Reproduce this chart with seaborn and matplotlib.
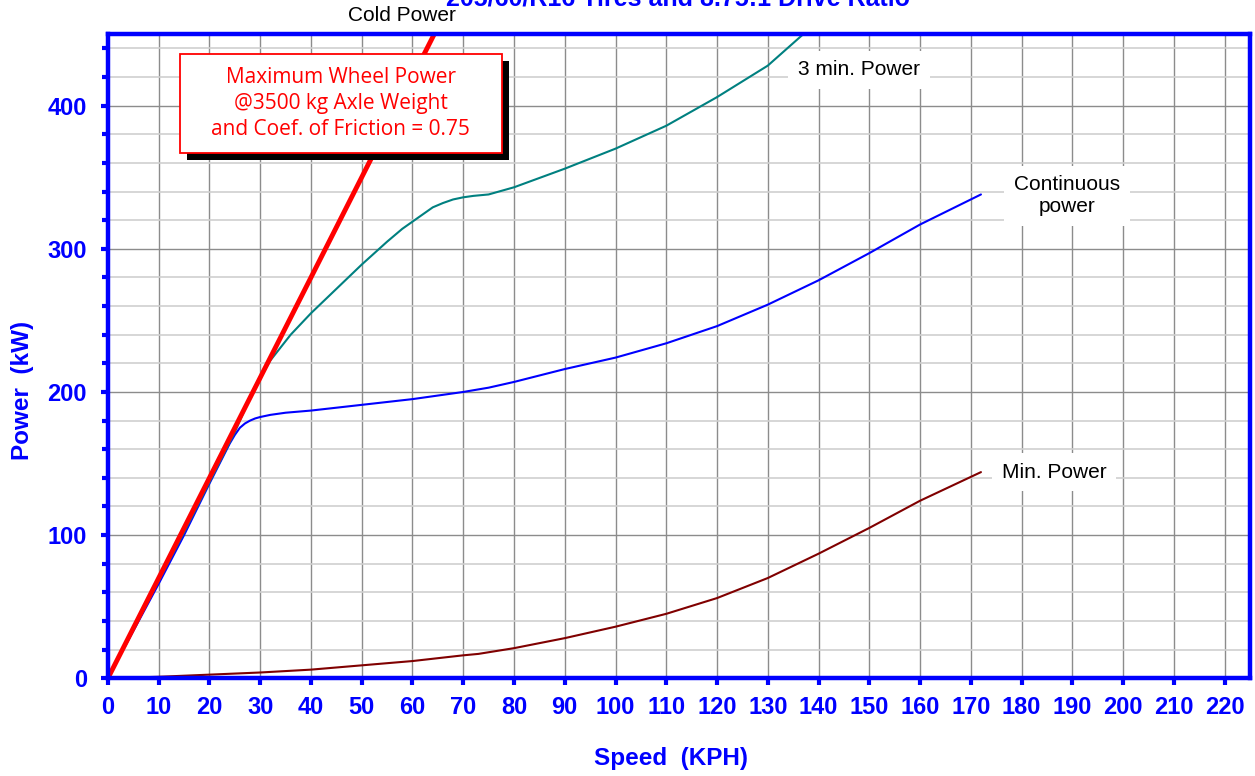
import numpy as np
import pandas as pd
import matplotlib
matplotlib.use('Agg')
import matplotlib.pyplot as plt
import matplotlib.patheffects as pe
from matplotlib.patches import Rectangle
from matplotlib.ticker import MultipleLocator
import seaborn as sns

# speed (kph) / power (kW)
cold_speed = [0, 70]
cold_power = [0, 490]

cont_speed = [0, 5, 10, 15, 20, 24, 25, 26, 27, 28, 29, 30, 32, 35, 40, 50, 60, 70, 75, 80, 90, 100, 110, 120, 130, 140, 150, 160, 172]
cont_power = [0, 33, 66, 100, 136, 164, 170, 175, 178, 180, 181.5, 182.5, 184, 185.5, 187, 191, 195, 200, 203, 207, 216, 224, 234, 246, 261, 278, 297, 317, 338]

min3_speed = [0, 5, 10, 15, 20, 25, 27, 28, 29, 30, 32, 36, 40, 45, 50, 55, 58, 60, 62, 64, 66, 68, 70, 72, 75, 78, 80, 90, 100, 110, 120, 130, 137]
min3_power = [0, 34, 68, 102, 137, 172, 188, 197, 204, 210, 222, 240, 255, 272, 289, 305, 314, 319, 324, 329, 332, 334.5, 336, 337, 338, 341, 343, 356, 370, 386, 406, 428, 450]

minp_speed = [0, 10, 20, 30, 40, 50, 60, 70, 73, 80, 90, 100, 110, 120, 130, 140, 150, 160, 172]
minp_power = [0, 1, 2.5, 4, 6, 9, 12, 16, 17, 21, 28, 36, 45, 56, 70, 87, 105, 124, 144]

title = '205/60/R16 Tires and 8.75:1 Drive Ratio'

sns.set_theme(style='white')
plt.rcParams['font.family'] = ['Liberation Sans', 'DejaVu Sans']

fig = plt.figure(figsize=(12.55, 7.76), dpi=100)
ax = fig.add_axes([0.086, 0.126, 0.91, 0.83])

ax.set_xlim(0, 225)
ax.set_ylim(0, 450)
ax.xaxis.set_major_locator(MultipleLocator(10))
ax.yaxis.set_major_locator(MultipleLocator(100))
ax.yaxis.set_minor_locator(MultipleLocator(20))
ax.grid(which='major', axis='x', color='#8c8c8c', lw=1)
ax.grid(which='major', axis='y', color='#8c8c8c', lw=1)
ax.grid(which='minor', axis='y', color='#cfcfcf', lw=1.2)
ax.set_axisbelow(True)

sns.lineplot(x=minp_speed, y=minp_power, ax=ax, color='#800000', lw=1.5)
sns.lineplot(x=cont_speed, y=cont_power, ax=ax, color='#0000ff', lw=1.5)
sns.lineplot(x=min3_speed, y=min3_power, ax=ax, color='#008080', lw=1.5)
sns.lineplot(x=cold_speed, y=cold_power, ax=ax, color='#ff0000', lw=3.5)

for s in ax.spines.values():
    s.set_color('#0000ff')
    s.set_linewidth(3.2)
ax.tick_params(which='both', direction='out', colors='#0000ff', width=3,
               labelsize=17, left=True, bottom=True)
ax.tick_params(which='major', length=5)
ax.tick_params(which='minor', length=4)
ax.tick_params(axis='y', pad=10)
ax.tick_params(axis='x', pad=8)
for lab in ax.get_xticklabels() + ax.get_yticklabels():
    lab.set_fontweight('bold')

ax.set_xlabel('Speed  (KPH)', color='#0000ff', fontsize=17.5, fontweight='bold', va='center')
ax.set_ylabel('Power  (kW)', color='#0000ff', fontsize=17.5, fontweight='bold', va='center')
ax.xaxis.set_label_coords(0.493, -0.124)
ax.yaxis.set_label_coords(-0.075, 0.447)

lbl = dict(color='black', fontsize=15, ha='center', va='center',
           bbox=dict(facecolor='white', edgecolor='none', pad=7))
ax.text(148, 425, '3 min. Power', **lbl)
ax.text(189, 337, 'Continuous\npower', **lbl)
ax.text(186.4, 144, 'Min. Power', **lbl)
ax.text(58, 463, 'Cold Power', color='black', fontsize=15, ha='center', va='center', clip_on=False)

box = Rectangle((14.2, 367), 63.4, 69, facecolor='white', edgecolor='#ff0000', lw=1.3, zorder=5)
box.set_path_effects([pe.SimplePatchShadow(offset=(5, -5), shadow_rgbFace='black', alpha=1), pe.Normal()])
ax.add_patch(box)
ax.text(45.9, 401.5, 'Maximum Wheel Power\n@3500 kg Axle Weight\nand Coef. of Friction = 0.75',
        color='#ff0000', fontsize=15, ha='center', va='center', linespacing=1.3,
        family=['Open Sans', 'DejaVu Sans'], zorder=6)

fig.text(0.54, 0.9935, title, color='#0000ff', fontsize=18, fontweight='bold',
         ha='center', va='baseline')

fig.savefig('out.png', dpi=100)
